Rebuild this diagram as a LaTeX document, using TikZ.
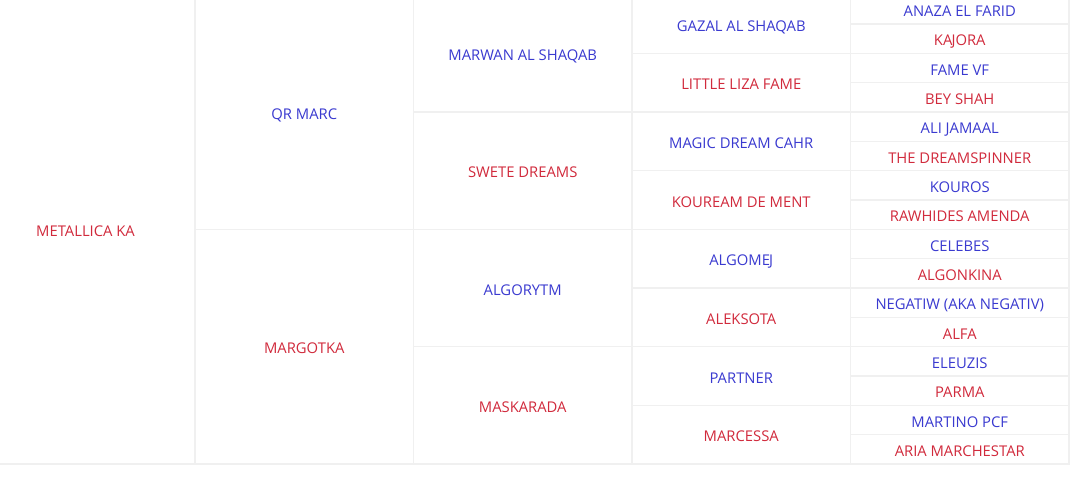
\documentclass[tikz,border=0pt]{standalone}
\usepackage{fontspec}
\setmainfont{Open Sans}
\definecolor{sirec}{HTML}{3A3AD0}
\definecolor{damc}{HTML}{D12A3C}
\definecolor{gridc}{HTML}{F0F0F0}
\begin{document}
\begin{tikzpicture}[x=1pt,y=-1pt,
  cellbox/.style={draw=gridc, line width=1.4pt},
  lbl/.style={font=\fontsize{14.8}{16}\selectfont, inner sep=0pt, text height=10.5pt, text depth=0pt, anchor=center, yshift=-0.8pt},
  sire/.style={lbl, text=sirec},
  dam/.style={lbl, text=damc}]
\useasboundingbox (0,0) rectangle (1071,488);
\fill[white] (0,0) rectangle (1071,488);
\begin{scope}
\clip (0,0) rectangle (1071,488);
% grid cells
\foreach \c/\xl/\xr/\n in {1/-24/195/16, 2/195/413.5/8, 3/413.5/632/4, 4/632/850.5/2, 5/850.5/1069/1}{
  \pgfmathtruncatemacro{\cnt}{16/\n-1}
  \foreach \i in {0,...,\cnt}{
    \pgfmathsetmacro{\yt}{-5.333+\i*\n*29.333}
    \pgfmathsetmacro{\yb}{\yt+\n*29.333}
    \draw[cellbox] (\xl,\yt) rectangle (\xr,\yb);
  }
}
\end{scope}
% column 1
\node[dam] (g0) at (85.5,230) {METALLICA KA};
% column 2
\node[sire] (s) at (304.25,113) {QR MARC};
\node[dam] (d) at (304.25,347.7) {MARGOTKA};
% column 3
\node[sire] (ss) at (522.75,54.3) {MARWAN AL SHAQAB};
\node[dam] (sd) at (522.75,171.7) {SWETE DREAMS};
\node[sire] (ds) at (522.75,289) {ALGORYTM};
\node[dam] (dd) at (522.75,406.3) {MASKARADA};
% column 4
\node[sire] (sss) at (741.25,25) {GAZAL AL SHAQAB};
\node[dam] (ssd) at (741.25,83.7) {LITTLE LIZA FAME};
\node[sire] (sds) at (741.25,142.3) {MAGIC DREAM CAHR};
\node[dam] (sdd) at (741.25,201) {KOUREAM DE MENT};
\node[sire] (dss) at (741.25,259.7) {ALGOME\kern-0.8pt J};
\node[dam] (dsd) at (741.25,318.3) {ALEKSOTA};
\node[sire] (dds) at (741.25,377) {PARTNER};
\node[dam] (ddd) at (741.25,435.7) {MARCESSA};
% column 5
\node[sire] (r1) at (959.75,10.3) {ANAZA EL FARID};
\node[dam] (r2) at (959.75,39.7) {KA\kern-0.8pt JORA};
\node[sire] (r3) at (959.75,69) {FAME VF};
\node[dam] (r4) at (959.75,98.3) {BEY SHAH};
\node[sire] (r5) at (959.75,127.7) {ALI JAMAAL};
\node[dam] (r6) at (959.75,157) {THE DREAMSPINNER};
\node[sire] (r7) at (959.75,186.3) {KOUROS};
\node[dam] (r8) at (959.75,215.7) {RAWHIDES AMENDA};
\node[sire] (r9) at (959.75,245) {CELEBES};
\node[dam] (r10) at (959.75,274.3) {ALGONKINA};
\node[sire] (r11) at (959.75,303.7) {NEGATIW (AKA NEGATIV)};
\node[dam] (r12) at (959.75,333) {ALFA};
\node[sire] (r13) at (959.75,362.3) {ELEUZIS};
\node[dam] (r14) at (959.75,391.7) {PARMA};
\node[sire] (r15) at (959.75,421) {MARTINO PCF};
\node[dam] (r16) at (959.75,450.3) {ARIA MARCHESTAR};
\end{tikzpicture}
\end{document}
